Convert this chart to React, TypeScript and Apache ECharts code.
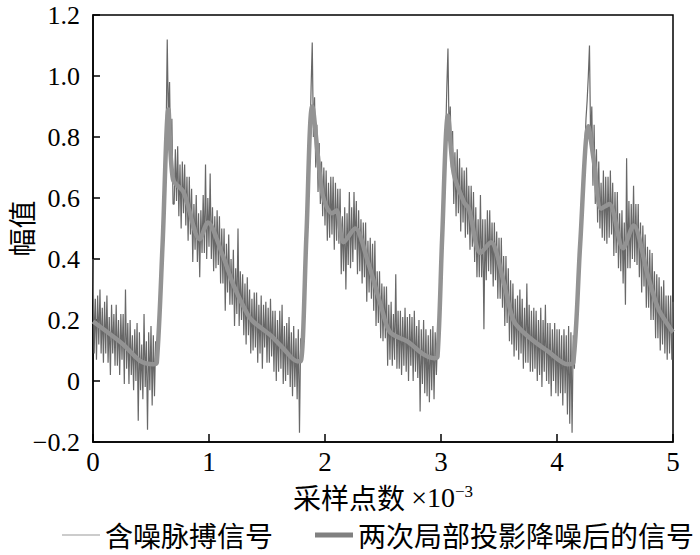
import React, { useEffect, useRef } from 'react';
import * as echarts from 'echarts';

// noisy pulse record, one value every 0.01 (x axis unit: 10^3 samples)
const noisyStep = 0.01;
const noisyY = [
  0.40, 0.09, 0.27, 0.07, 0.28, 0.12, 0.30, 0.09, 0.24, 0.06,
  0.26, 0.09, 0.28, 0.06, 0.21, 0.02, 0.25, 0.09, 0.22, 0.05,
  0.25, 0.05, 0.20, 0.02, 0.22, 0.07, 0.22, -0.01, 0.30, 0.04,
  0.19, -0.01, 0.20, 0.02, 0.15, -0.03, 0.17, 0.00, 0.19, -0.13,
  0.16, -0.03, 0.12, -0.06, 0.22, -0.02, 0.13, -0.16, 0.16, -0.03,
  0.18, -0.08, 0.15, -0.05, 0.13, 0.07, 0.16, 0.20, 0.33, 0.36,
  0.47, 0.55, 0.64, 0.80, 1.12, 0.85, 0.98, 0.72, 0.86, 0.58,
  0.58, 0.76, 0.59, 0.77, 0.54, 0.71, 0.50, 0.72, 0.55, 0.71,
  0.51, 0.67, 0.46, 0.67, 0.48, 0.63, 0.39, 0.58, 0.43, 0.61,
  0.39, 0.55, 0.34, 0.56, 0.42, 0.61, 0.42, 0.71, 0.40, 0.60,
  0.44, 0.68, 0.40, 0.57, 0.36, 0.54, 0.37, 0.56, 0.38, 0.54,
  0.32, 0.50, 0.32, 0.50, 0.23, 0.45, 0.29, 0.48, 0.25, 0.40,
  0.25, 0.43, 0.18, 0.37, 0.22, 0.50, 0.18, 0.36, 0.20, 0.35,
  0.15, 0.32, 0.12, 0.34, 0.15, 0.30, 0.09, 0.27, 0.10, 0.29,
  0.11, 0.29, 0.06, 0.25, 0.09, 0.28, 0.04, 0.25, 0.11, 0.26,
  0.06, 0.24, 0.06, 0.27, 0.08, 0.23, 0.03, 0.23, 0.00, 0.20,
  0.03, 0.23, 0.04, 0.25, -0.01, 0.18, 0.00, 0.19, 0.02, 0.21,
  -0.02, 0.16, -0.05, 0.18, -0.02, 0.14, -0.06, 0.17, -0.17, 0.14,
  0.11, 0.16, 0.27, 0.36, 0.50, 0.58, 0.70, 0.78, 0.96, 1.11,
  0.80, 0.93, 0.70, 0.84, 0.62, 0.78, 0.58, 0.72, 0.54, 0.70,
  0.51, 0.69, 0.46, 0.65, 0.47, 0.67, 0.48, 0.67, 0.43, 0.65,
  0.46, 0.63, 0.45, 0.63, 0.35, 0.54, 0.36, 0.57, 0.30, 0.55,
  0.38, 0.62, 0.37, 0.57, 0.39, 0.62, 0.43, 0.59, 0.35, 0.56,
  0.36, 0.53, 0.32, 0.52, 0.34, 0.52, 0.26, 0.46, 0.29, 0.47,
  0.27, 0.45, 0.23, 0.46, 0.18, 0.36, 0.19, 0.36, 0.14, 0.32,
  0.13, 0.31, 0.14, 0.31, 0.05, 0.25, 0.07, 0.26, 0.05, 0.22,
  0.07, 0.35, 0.04, 0.23, 0.04, 0.23, 0.02, 0.21, 0.05, 0.24,
  0.03, 0.21, 0.00, 0.22, 0.05, 0.21, 0.00, 0.23, 0.03, 0.18,
  0.01, 0.20, -0.10, 0.17, -0.01, 0.20, -0.04, 0.17, -0.05, 0.15,
  -0.07, 0.17, -0.03, 0.18, -0.06, 0.16, 0.02, 0.13, 0.13, 0.27,
  0.36, 0.47, 0.58, 0.70, 0.80, 0.96, 1.09, 0.80, 0.90, 0.70,
  0.82, 0.58, 0.75, 0.54, 0.76, 0.55, 0.73, 0.49, 0.70, 0.52,
  0.69, 0.47, 0.70, 0.48, 0.64, 0.43, 0.64, 0.44, 0.62, 0.39,
  0.57, 0.34, 0.53, 0.34, 0.61, 0.34, 0.53, 0.17, 0.53, 0.33,
  0.56, 0.36, 0.56, 0.35, 0.52, 0.31, 0.52, 0.33, 0.49, 0.27,
  0.47, 0.27, 0.47, 0.24, 0.41, 0.18, 0.41, 0.19, 0.37, 0.13,
  0.33, 0.12, 0.32, 0.08, 0.27, 0.10, 0.28, 0.07, 0.30, 0.09,
  0.27, 0.04, 0.24, 0.06, 0.32, 0.06, 0.25, 0.03, 0.23, 0.03,
  0.24, 0.04, 0.23, 0.00, 0.20, 0.02, 0.24, -0.02, 0.20, 0.03,
  0.25, 0.00, 0.19, -0.01, 0.19, -0.05, 0.17, 0.00, 0.19, -0.04,
  0.17, -0.05, 0.17, -0.04, 0.15, -0.08, 0.17, -0.04, 0.15, -0.11,
  0.18, -0.14, 0.16, -0.17, 0.15, 0.04, 0.16, 0.17, 0.31, 0.35,
  0.48, 0.55, 0.63, 0.70, 0.77, 0.86, 0.92, 1.00, 1.10, 0.78,
  0.90, 0.64, 0.84, 0.58, 0.76, 0.52, 0.72, 0.50, 0.65, 0.47,
  0.69, 0.46, 0.67, 0.45, 0.67, 0.47, 0.69, 0.48, 0.65, 0.41,
  0.62, 0.42, 0.62, 0.37, 0.55, 0.36, 0.56, 0.32, 0.52, 0.25,
  0.73, 0.37, 0.59, 0.37, 0.58, 0.40, 0.64, 0.39, 0.58, 0.38,
  0.58, 0.34, 0.52, 0.29, 0.51, 0.31, 0.48, 0.24, 0.44, 0.24,
  0.43, 0.20, 0.42, 0.20, 0.36, 0.14, 0.35, 0.14, 0.34, 0.10,
  0.31, 0.12, 0.33, 0.09, 0.28, 0.07, 0.28, 0.09, 0.28, 0.07,
  0.26,
];

const denoisedX = [
  0, 0.26, 0.41, 0.52, 0.55, 0.60, 0.65, 0.69, 0.78, 0.92,
  0.99, 1.12, 1.21, 1.33, 1.38, 1.53, 1.64, 1.76, 1.79, 1.84,
  1.89, 1.98, 2.06, 2.10, 2.16, 2.26, 2.37, 2.48, 2.56, 2.71,
  2.85, 2.94, 2.97, 3.01, 3.06, 3.11, 3.20, 3.24, 3.34, 3.43,
  3.54, 3.63, 3.77, 3.92, 4.09, 4.14, 4.20, 4.27, 4.32, 4.38,
  4.45, 4.57, 4.66, 4.78, 4.87, 4.98, 5.0,
];
const denoisedY = [
  0.195, 0.12, 0.065, 0.055, 0.06, 0.45, 0.89, 0.66, 0.62, 0.465,
  0.52, 0.41, 0.315, 0.22, 0.195, 0.15, 0.107, 0.065, 0.065, 0.48,
  0.90, 0.61, 0.55, 0.56, 0.455, 0.50, 0.39, 0.25, 0.16, 0.13,
  0.087, 0.075, 0.08, 0.47, 0.87, 0.68, 0.585, 0.565, 0.42, 0.455,
  0.325, 0.195, 0.14, 0.098, 0.055, 0.06, 0.45, 0.835, 0.715, 0.565,
  0.58, 0.435, 0.51, 0.35, 0.24, 0.17, 0.16,
];

const seriesNames = ['含噪脉搏信号', '两次局部投影降噪后的信号'];
const xAxisName = '采样点数';
const yAxisName = '幅值';

const serif = 'Liberation Serif, DejaVu Serif, serif';
const cjk = 'Noto Sans CJK SC, sans-serif';

const thinIcon = 'path://M0,0 M38,14 M0,6.4 L38,6.4 L38,7.6 L0,7.6 Z';
const thickIcon = 'path://M0,0 M38,14 M0,4.5 L38,4.5 L38,9.5 L0,9.5 Z';

export default function App() {
  const ref = useRef<HTMLDivElement>(null);
  useEffect(() => {
    const chart = echarts.init(ref.current!, null, { renderer: 'svg' });
    const noisyData = noisyY.map((v, i) => [Math.round(i * noisyStep * 100) / 100, v]);
    const denoisedData = denoisedX.map((x, i) => [x, denoisedY[i]]);
    chart.setOption({
      animation: false,
      backgroundColor: '#ffffff',
      grid: {
        left: 93, right: 27, top: 15, bottom: 113,
        outerBoundsMode: 'none', containLabel: false,
        show: true, borderColor: '#000', borderWidth: 1.5, backgroundColor: 'transparent',
      },
      legend: {
        left: 62, top: 519, padding: 0,
        width: 636,
        itemWidth: 38, itemHeight: 14, itemGap: 42,
        textStyle: { fontFamily: cjk, fontSize: 28, color: '#000', lineHeight: 32 },
        data: [
          { name: seriesNames[0], icon: thinIcon, itemStyle: { color: '#9a9a9a', borderWidth: 0 } },
          { name: seriesNames[1], icon: thickIcon, itemStyle: { color: '#808080', borderWidth: 0 } },
        ],
      },
      xAxis: {
        type: 'value', min: 0, max: 5, interval: 1,
        name: `{a|${xAxisName} }{b|×10}{c|−3}`,
        nameLocation: 'middle', nameGap: 41, nameMoveOverlap: false,
        nameTextStyle: {
          rich: {
            a: { fontFamily: cjk, fontSize: 28, color: '#000', lineHeight: 28 },
            b: { fontFamily: serif, fontSize: 28, color: '#000', lineHeight: 28 },
            c: { fontFamily: serif, fontSize: 17, color: '#000', verticalAlign: 'top' },
          },
        },
        axisLine: { show: true, onZero: false, lineStyle: { color: '#000', width: 1.5 } },
        axisTick: { inside: true, length: 8, lineStyle: { color: '#000', width: 1.5 } },
        axisLabel: { fontFamily: serif, fontSize: 27, color: '#000', margin: 8, lineHeight: 24 },
        splitLine: { show: false },
      },
      yAxis: {
        type: 'value', min: -0.2, max: 1.2, interval: 0.2,
        name: yAxisName, nameLocation: 'middle', nameGap: 58, nameMoveOverlap: false,
        nameTextStyle: { fontFamily: cjk, fontSize: 28, color: '#000' },
        axisLine: { show: true, onZero: false, lineStyle: { color: '#000', width: 1.5 } },
        axisTick: { inside: true, length: 7, lineStyle: { color: '#000', width: 1.5 } },
        axisLabel: {
          fontFamily: serif, fontSize: 26, color: '#000', margin: 13, lineHeight: 20,
          formatter: (v: number) => (Math.abs(v) < 1e-9 ? '0' : v.toFixed(1).replace('-', '−')),
        },
        splitLine: { show: false },
      },
      series: [
        {
          name: seriesNames[0], type: 'line', data: noisyData, symbol: 'none',
          lineStyle: { color: '#686868', width: 1.2 }, itemStyle: { color: '#9a9a9a' },
        },
        {
          name: seriesNames[1], type: 'line', data: denoisedData, symbol: 'none', smooth: 0.3,
          lineStyle: { color: '#939393', width: 4.5 }, itemStyle: { color: '#808080' },
        },
      ],
    });
    return () => chart.dispose();
  }, []);
  return <div ref={ref} style={{ position: 'fixed', left: 0, top: 0, width: 700, height: 555 }} />;
}
